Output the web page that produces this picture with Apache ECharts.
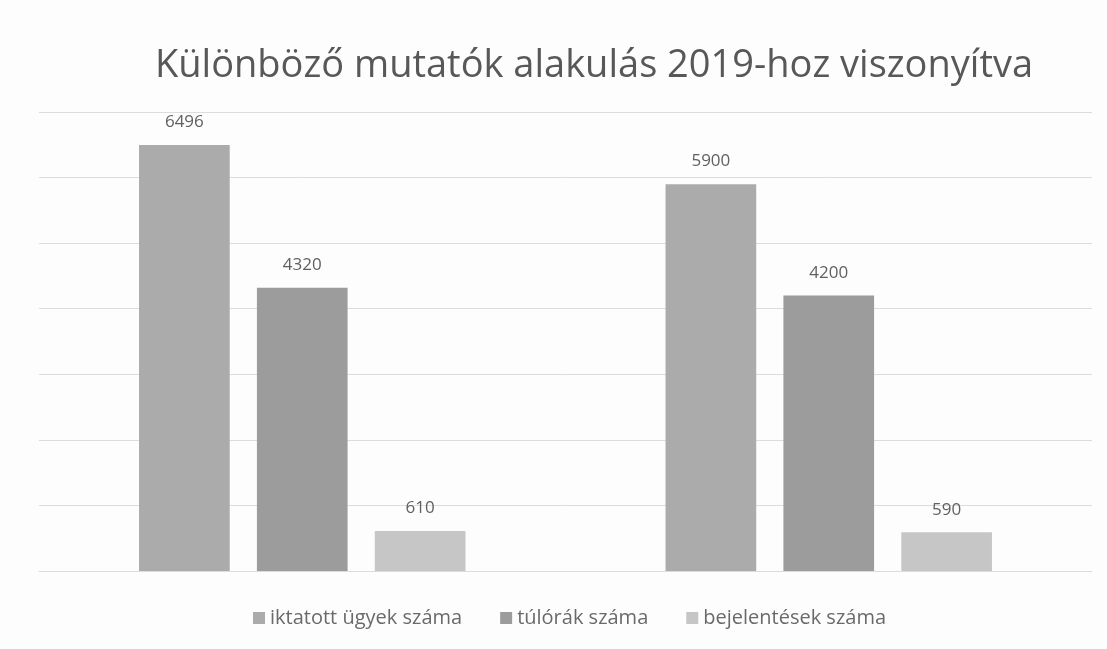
<!DOCTYPE html>
<html>
<head>
<meta charset="utf-8">
<script src="https://cdn.jsdelivr.net/npm/echarts@6/dist/echarts.min.js"></script>
<style>html,body{margin:0;padding:0;background:#fdfdfd}#c{width:1107px;height:649px}</style>
</head>
<body>
<div id="c"></div>
<script>
const categories = ['2019', '2020'];
const seriesNames = ['iktatott ügyek száma', 'túlórák száma', 'bejelentések száma'];
const iktatott = [6496, 5900];
const tulorak = [4320, 4200];
const bejelentesek = [610, 590];
const colors = ['#ababab', '#9c9c9c', '#c6c6c6'];

const chart = echarts.init(document.getElementById('c'));
const font = '"Open Sans", "Noto Sans", sans-serif';
const values = [iktatott, tulorak, bejelentesek];
chart.setOption({
  backgroundColor: '#fdfdfd',
  animation: false,
  color: colors,
  title: {
    text: 'Különböző mutatók alakulás 2019-hoz viszonyítva',
    left: 589, textAlign: 'center', top: 42,
    textStyle: {fontFamily: font, fontSize: 38, fontWeight: 'normal', color: '#585858'}
  },
  legend: {
    bottom: 16, left: 248, width: 820,
    itemWidth: 12, itemHeight: 12, itemGap: 38,
    icon: 'rect',
    textStyle: {fontFamily: font, fontSize: 20, color: '#6a6a6a'},
    data: seriesNames
  },
  grid: {left: 39, right: 15, top: 112, bottom: 78, containLabel: false},
  xAxis: {
    type: 'category', data: categories,
    axisLine: {show: true, lineStyle: {color: '#dcdcdc'}},
    axisTick: {show: false}, axisLabel: {show: false}
  },
  yAxis: {
    type: 'value', min: 0, max: 7000, interval: 1000,
    axisLabel: {show: false}, axisLine: {show: false}, axisTick: {show: false},
    splitLine: {lineStyle: {color: '#dcdcdc'}}
  },
  series: values.map((v, i) => ({
    name: seriesNames[i], type: 'bar', data: v,
    barGap: '30%', barCategoryGap: '38%',
    itemStyle: {color: colors[i]},
    label: {show: true, position: 'top', distance: 14, fontFamily: font, fontSize: 17, color: '#606060'}
  }))
});
</script>
</body>
</html>
